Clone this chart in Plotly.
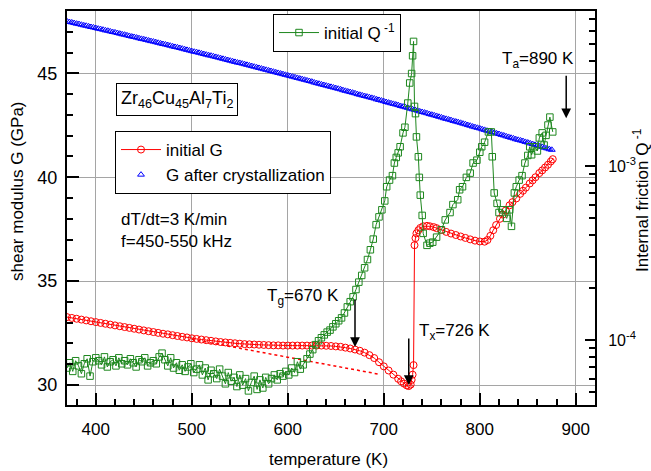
import plotly.graph_objects as go

# ---------------- data ----------------
# initial shear modulus G (GPa) vs temperature (K)
T_RED = [370, 375, 380, 385, 390, 395, 400, 405, 410, 415, 420, 425, 430, 435, 440, 445,
         450, 455, 460, 465, 470, 475, 480, 485, 490, 495, 500, 505, 510, 515, 520, 525,
         530, 535, 540, 545, 550, 555, 560, 565, 570, 575, 580, 585, 590, 595, 600, 605,
         610, 615, 620, 625, 630, 635, 640, 645, 650, 655, 660, 665, 670, 675, 680, 685,
         690, 695, 700, 705, 710, 715, 718, 721, 724, 726, 728, 729, 730, 731, 732, 733,
         734, 736, 738, 741, 745, 748, 752, 755, 760, 765, 770, 775, 780, 785, 790, 795,
         800, 805, 808, 811, 814, 817, 821, 824, 827, 831, 834, 838, 842, 845, 848, 852,
         855, 858, 862, 865, 868, 871, 874, 876]
G_RED = [33.27, 33.23, 33.19, 33.15, 33.11, 33.07, 33.03, 32.99, 32.95, 32.91, 32.87, 32.83,
         32.79, 32.75, 32.71, 32.67, 32.63, 32.59, 32.55, 32.51, 32.47, 32.44, 32.40, 32.36,
         32.32, 32.29, 32.25, 32.22, 32.19, 32.16, 32.13, 32.10, 32.07, 32.05, 32.03, 32.01,
         31.99, 31.97, 31.96, 31.95, 31.94, 31.93, 31.92, 31.91, 31.91, 31.90, 31.90, 31.90,
         31.90, 31.90, 31.90, 31.90, 31.90, 31.90, 31.89, 31.88, 31.86, 31.84, 31.80, 31.76,
         31.71, 31.65, 31.56, 31.44, 31.30, 31.10, 30.90, 30.70, 30.50, 30.30, 30.18, 30.07,
         29.98, 29.95, 30.02, 30.25, 30.50, 30.96, 36.73, 37.07, 37.30, 37.45, 37.56, 37.64,
         37.66, 37.64, 37.60, 37.55, 37.46, 37.37, 37.29, 37.22, 37.15, 37.08, 37.01, 36.95,
         36.91, 36.90, 36.98, 37.18, 37.45, 37.70, 38.00, 38.20, 38.40, 38.65, 38.80, 38.98,
         39.20, 39.35, 39.50, 39.70, 39.85, 40.00, 40.20, 40.33, 40.47, 40.60, 40.76, 40.87]

# extrapolated glassy G (dotted)
T_DOT = [500, 694]
G_DOT = [32.20, 30.53]

# G after crystallization (sampled every 2.5 K from 370 K)
G_BLUE = [47.50, 47.47, 47.45, 47.42, 47.39, 47.37, 47.34, 47.31, 47.29, 47.26, 47.23, 47.21,
          47.18, 47.15, 47.13, 47.10, 47.07, 47.05, 47.02, 46.99, 46.97, 46.94, 46.91, 46.88,
          46.86, 46.83, 46.80, 46.77, 46.75, 46.72, 46.69, 46.66, 46.64, 46.61, 46.58, 46.55,
          46.53, 46.50, 46.47, 46.44, 46.41, 46.39, 46.36, 46.33, 46.30, 46.27, 46.25, 46.22,
          46.19, 46.16, 46.13, 46.10, 46.07, 46.04, 46.02, 45.99, 45.96, 45.93, 45.90, 45.87,
          45.85, 45.82, 45.79, 45.76, 45.73, 45.70, 45.67, 45.64, 45.61, 45.58, 45.55, 45.52,
          45.50, 45.47, 45.44, 45.41, 45.38, 45.35, 45.32, 45.29, 45.26, 45.23, 45.20, 45.17,
          45.14, 45.11, 45.08, 45.05, 45.02, 44.99, 44.96, 44.93, 44.90, 44.87, 44.84, 44.81,
          44.78, 44.75, 44.72, 44.69, 44.66, 44.63, 44.60, 44.56, 44.53, 44.50, 44.47, 44.44,
          44.41, 44.38, 44.35, 44.32, 44.29, 44.26, 44.23, 44.19, 44.16, 44.13, 44.10, 44.07,
          44.04, 44.00, 43.97, 43.94, 43.91, 43.88, 43.85, 43.82, 43.79, 43.75, 43.72, 43.69,
          43.66, 43.62, 43.59, 43.56, 43.53, 43.50, 43.47, 43.43, 43.40, 43.37, 43.34, 43.30,
          43.27, 43.24, 43.21, 43.17, 43.14, 43.11, 43.08, 43.04, 43.01, 42.98, 42.95, 42.91,
          42.88, 42.84, 42.81, 42.78, 42.75, 42.71, 42.68, 42.65, 42.62, 42.58, 42.55, 42.51,
          42.48, 42.44, 42.41, 42.38, 42.35, 42.31, 42.28, 42.24, 42.21, 42.18, 42.15, 42.11,
          42.08, 42.04, 42.01, 41.97, 41.94, 41.90, 41.87, 41.83, 41.80, 41.77, 41.74, 41.70,
          41.67, 41.63, 41.60, 41.56, 41.53, 41.49, 41.46, 41.42, 41.39, 41.35, 41.32]
T_BLUE = [370 + 2.5 * i for i in range(len(G_BLUE))]

# initial internal friction Q^-1
T_Q = list(range(370, 617, 3)) + [
    620, 623, 626, 629, 632, 635, 638, 641, 644, 647, 650, 653, 656, 659, 662, 665, 668, 671,
    674, 677, 680, 683, 686, 689, 692, 695, 698, 701, 703, 706, 709, 711, 713, 715, 717, 720,
    722, 725, 727, 729, 730, 731, 732, 733, 734, 736, 737, 738, 740, 741, 745, 748, 751, 755,
    760, 764, 769, 772, 777, 779, 782, 786, 790, 793, 797, 800, 802, 805, 809, 812, 813, 815,
    818, 820, 824, 828, 831, 833, 836, 838, 841, 844, 847, 850, 852, 854, 857, 860, 862, 865,
    867, 869, 871, 873, 876]
Q_INV = [
    6.9e-5, 7.4e-5, 6.6e-5, 7.6e-5, 7.1e-5, 6.4e-5, 7.3e-5, 7.8e-5, 6.2e-5, 7.5e-5, 7.9e-5,
    7.6e-5, 7.2e-5, 8.0e-5, 7.0e-5, 7.5e-5, 7.7e-5, 7.1e-5, 7.9e-5, 7.3e-5, 7.6e-5,
    7.2e-5, 7.8e-5, 7.4e-5, 7.0e-5, 7.7e-5, 7.5e-5, 7.9e-5, 7.1e-5, 7.4e-5, 7.6e-5,
    7.3e-5, 8.0e-5, 8.4e-5, 7.7e-5, 7.1e-5, 7.9e-5, 6.9e-5, 7.4e-5, 6.7e-5, 7.2e-5,
    6.6e-5, 7.0e-5, 7.3e-5, 6.5e-5, 6.8e-5, 7.2e-5, 6.3e-5, 6.9e-5, 5.9e-5, 6.7e-5,
    6.4e-5, 6.0e-5, 6.8e-5, 6.2e-5, 5.6e-5, 6.5e-5, 5.8e-5, 6.1e-5, 5.4e-5, 6.3e-5,
    5.5e-5, 6.0e-5, 5.1e-5, 5.7e-5, 6.2e-5, 5.2e-5, 5.9e-5, 5.3e-5, 6.1e-5, 5.6e-5,
    6.0e-5, 6.3e-5, 5.9e-5, 6.4e-5, 6.2e-5, 6.6e-5, 6.3e-5, 6.9e-5, 6.5e-5, 7.5e-5, 6.8e-5, 7.2e-5,
    7.8e-5, 8.3e-5, 8.8e-5, 9.4e-5, 9.9e-5, 1.03e-4, 1.07e-4, 1.11e-4, 1.14e-4, 1.19e-4,
    1.24e-4, 1.29e-4, 1.34e-4, 1.43e-4, 1.55e-4, 1.66e-4, 1.77e-4, 1.95e-4, 2.15e-4, 2.35e-4,
    2.6e-4, 2.9e-4, 3.3e-4, 3.8e-4, 4.6e-4, 5.1e-4, 5.6e-4, 6.3e-4, 7.6e-4, 8.3e-4, 8.8e-4,
    1.04e-3, 1.12e-3, 1.19e-3, 1.29e-3, 1.55e-3, 1.67e-3, 2.3e-3, 3.0e-3, 3.4e-3, 4.3e-3,
    5.2e-3, 2.2e-3, 2.0e-3, 1.47e-3, 1.13e-3, 8.6e-4, 6.8e-4, 5.2e-4, 4.1e-4, 3.5e-4, 3.6e-4,
    3.65e-4, 3.9e-4, 4.3e-4, 4.9e-4, 5.4e-4, 6.0e-4, 6.4e-4, 7.3e-4, 7.6e-4, 8.6e-4, 9.1e-4,
    1.04e-3, 1.08e-3, 1.2e-3, 1.29e-3, 1.37e-3, 1.57e-3, 1.57e-3, 1.13e-3, 7.0e-4, 6.1e-4,
    5.4e-4, 5.6e-4, 5.0e-4, 5.6e-4, 4.5e-4, 7.0e-4, 7.6e-4, 8.3e-4, 8.8e-4, 1.04e-3, 1.15e-3,
    1.29e-3, 1.16e-3, 1.29e-3, 1.22e-3, 1.45e-3, 1.55e-3, 1.32e-3, 1.50e-3, 1.72e-3, 1.91e-3,
    1.57e-3]

X_TICKS = [400, 500, 600, 700, 800, 900]
Y_TICKS = [30, 35, 40, 45]
Q_TICKS = [1e-4, 1e-3]
Q_TICK_TEXT = ["10<sup>-4</sup>", "10<sup>-3</sup>"]
Q_MINOR = [5e-5, 6e-5, 7e-5, 8e-5, 9e-5, 2e-4, 3e-4, 4e-4, 5e-4, 6e-4, 7e-4, 8e-4, 9e-4,
           2e-3, 3e-3, 4e-3, 5e-3, 6e-3, 7e-3]

# ---------------- figure ----------------
FONT = "Liberation Sans, Arial, sans-serif"
GREEN = "rgb(30,135,30)"

fig = go.Figure()
fig.add_trace(go.Scatter(x=T_DOT, y=G_DOT, mode="lines", showlegend=False,
                         line=dict(color="red", width=1.5, dash="dot")))
fig.add_trace(go.Scatter(x=T_RED, y=G_RED, mode="lines+markers", name="initial G",
                         line=dict(color="red", width=1),
                         marker=dict(symbol="circle-open", size=7, color="red",
                                     line=dict(width=1))))
fig.add_trace(go.Scatter(x=T_BLUE, y=G_BLUE, mode="markers", name="G after crystallization",
                         marker=dict(symbol="triangle-up-open", size=6, color="blue",
                                     line=dict(width=1))))
fig.add_trace(go.Scatter(x=T_Q, y=Q_INV, yaxis="y2", mode="lines+markers",
                         name="initial Q<sup> -1</sup>", legend="legend2",
                         line=dict(color=GREEN, width=1),
                         marker=dict(symbol="square-open", size=6.5, color=GREEN,
                                     line=dict(width=1))))

W, H = 651, 471
L, R, T, B = 67, 56, 11, 66

def px_x(p):
    return (p - L) / (W - L - R)

def px_y(p):
    return (H - B - p) / (H - T - B)

arrow = dict(showarrow=True, arrowhead=2, arrowsize=1.3, arrowwidth=1.5,
             arrowcolor="black", ax=0, text="", xref="x", yref="y")
annots = [
    dict(x=670, y=31.83, ay=-49, **arrow),
    dict(x=726, y=30.0, ay=-48, **arrow),
    dict(x=890, y=42.84, ay=-44, **arrow),
    dict(x=655, y=34.25, xref="x", yref="y", xanchor="right", yanchor="middle",
         text="T<sub>g</sub>=670 K", showarrow=False),
    dict(x=734.5, y=32.55, xref="x", yref="y", xanchor="left", yanchor="middle",
         text="T<sub>x</sub>=726 K", showarrow=False),
    dict(x=900, y=45.62, xref="x", yref="y", xanchor="right", yanchor="middle",
         text="T<sub>a</sub>=890 K", showarrow=False),
    dict(x=px_x(177), y=px_y(99.5), xref="paper", yref="paper", xanchor="center",
         yanchor="middle", text="Zr<sub>46</sub>Cu<sub>45</sub>Al<sub>7</sub>Ti<sub>2</sub>",
         showarrow=False, bordercolor="black", borderwidth=1, borderpad=4,
         bgcolor="white", font=dict(size=18)),
    dict(x=px_x(119), y=px_y(219), xref="paper", yref="paper", xanchor="left",
         yanchor="middle", text="dT/dt=3 K/min", showarrow=False),
    dict(x=px_x(119), y=px_y(241), xref="paper", yref="paper", xanchor="left",
         yanchor="middle", text="f=450-550 kHz", showarrow=False),
    dict(x=px_x(17), y=px_y(191), xref="paper", yref="paper", xanchor="center",
         yanchor="middle", text="shear modulus G (GPa)", textangle=-90, showarrow=False),
    dict(x=px_x(328), y=px_y(460), xref="paper", yref="paper", xanchor="center",
         yanchor="middle", text="temperature (K)", showarrow=False),
    dict(x=px_x(641), y=px_y(200), xref="paper", yref="paper", xanchor="center",
         yanchor="middle", text="Internal friction Q<sup> -1</sup>", textangle=-90,
         showarrow=False),
]

GRID = "rgb(165,165,165)"
fig.update_layout(
    width=W, height=H,
    margin=dict(l=L, r=R, t=T, b=B, pad=0),
    paper_bgcolor="white", plot_bgcolor="white",
    font=dict(family=FONT, size=17, color="black"),
    xaxis=dict(range=[370, 920], tickvals=X_TICKS, ticks="inside", ticklen=12, tickwidth=1.5,
               tickcolor="black", showline=True, linewidth=2, linecolor="black", mirror=True,
               showgrid=True, gridcolor=GRID, gridwidth=1, zeroline=False,
               tickfont=dict(size=17), ticklabelstandoff=8, automargin=False,
               minor=dict(dtick=20, tick0=0, ticks="inside", ticklen=6, tickwidth=1.5,
                          tickcolor="black", showgrid=False)),
    yaxis=dict(range=[29.04, 48], tickvals=Y_TICKS, ticks="inside", ticklen=12, tickwidth=1.5,
               tickcolor="black", showline=True, linewidth=2, linecolor="black",
               showgrid=True, gridcolor=GRID, gridwidth=1, zeroline=False,
               tickfont=dict(size=18), ticklabelstandoff=4, automargin=False,
               minor=dict(dtick=1, tick0=0, ticks="inside", ticklen=6, tickwidth=1.5,
                          tickcolor="black", showgrid=False)),
    yaxis2=dict(type="log", range=[-4.3736, -2.1092], overlaying="y", side="right",
                anchor="x", tickvals=Q_TICKS, ticktext=Q_TICK_TEXT, ticks="inside",
                ticklen=10, tickwidth=1.5, tickcolor="black", showline=True, linewidth=2,
                linecolor="black", showgrid=False, zeroline=False,
                tickfont=dict(size=16), ticklabelstandoff=8, automargin=False,
                minor=dict(tickvals=Q_MINOR, ticks="inside", ticklen=6, tickwidth=1.5,
                           tickcolor="black", showgrid=False)),
    legend=dict(x=px_x(115), y=px_y(131), xanchor="left", yanchor="top",
                bordercolor="black", borderwidth=1, bgcolor="white",
                itemwidth=40, font=dict(size=17)),
    legend2=dict(x=px_x(273), y=px_y(14), xanchor="left", yanchor="top",
                 bordercolor="black", borderwidth=1, bgcolor="white",
                 itemwidth=40, font=dict(size=17)),
    annotations=annots,
    showlegend=True,
)

fig.write_html("out.html", config={"displayModeBar": False},
               post_script="document.body.style.margin='0px';")
